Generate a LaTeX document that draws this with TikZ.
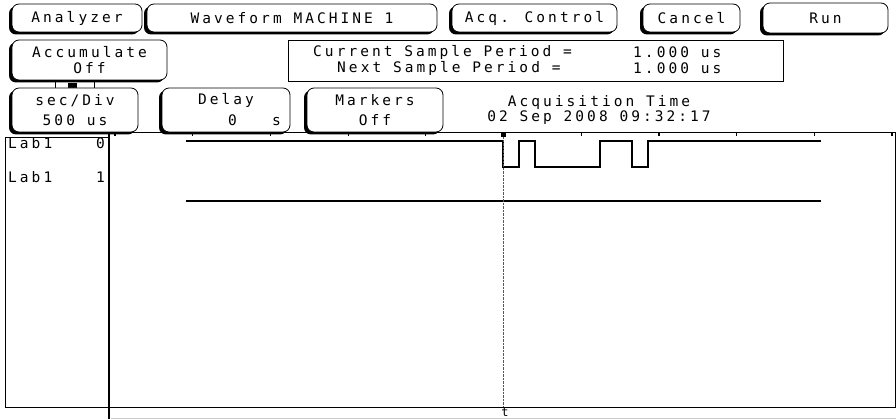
\documentclass[tikz,border=0pt]{standalone}
\usepackage{fontspec}
\usetikzlibrary{shadows}
\newfontfamily\hpfont[LetterSpace=21]{DejaVu Sans Mono}

\tikzset{
  btn/.style={draw, line width=0.8pt, rounded corners=7pt, fill=white, align=center,
    inner sep=0pt, font=\hpfont\fontsize{14.5}{16}\selectfont,
    drop shadow={shadow xshift=-3pt, shadow yshift=-2.5pt, opacity=1, fill=black}},
  tall/.style={font=\hpfont\fontsize{14.5}{20}\selectfont},
  lbl/.style={inner sep=0pt, font=\hpfont\fontsize{14.5}{16}\selectfont},
  wave/.style={line width=1.2pt},
}

\begin{document}
\begin{tikzpicture}[x=1pt,y=-1pt]
    \useasboundingbox (0,0) rectangle (896,419) ;
    %% top row of buttons
    \node[btn, minimum width=130, minimum height=28] (analyzer) at (77,18) {Analyzer} ;
    \node[btn, minimum width=290, minimum height=28] (machine) at (292,18) {Waveform MACHINE 1} ;
    \node[btn, minimum width=165, minimum height=28] (acqctrl) at (534.5,18) {Acq. Control} ;
    \node[btn, minimum width=97, minimum height=28] (cancel) at (691.5,18) {Cancel} ;
    \node[btn, minimum width=125, minimum height=30] (run) at (825.5,18) {Run} ;
    %% second row
    \node[btn, minimum width=155, minimum height=40] (accum) at (89.5,60) {Accumulate\\Off} ;
    \draw[line width=0.8pt] (288,40) rectangle (783,81) ;
    \node[lbl, anchor=west] (curlbl) at (313,52) {Current Sample Period =} ;
    \node[lbl, anchor=west] (curval) at (633,52) {1.000 us} ;
    \node[lbl, anchor=west] (nextlbl) at (337,68) {Next Sample Period =} ;
    \node[lbl, anchor=west] (nextval) at (633,68) {1.000 us} ;
    %% little link under Accumulate
    \draw (55,80) -- (55,88) ;
    \draw (94,80) -- (94,88) ;
    \fill (60,89) rectangle (90,93) ;
    \fill (68,83) rectangle (77,89) ;
    %% third row
    \node[btn, tall, minimum width=126, minimum height=44] (secdiv) at (75,110) {sec/Div\\500 us} ;
    \node[btn, minimum width=128, minimum height=44] (delay) at (226,110) {} ;
    \node[lbl] (delaytxt) at (226,100) {Delay} ;
    \node[lbl, anchor=east] (delayval) at (281,120) {0\ \ \ s} ;
    \node[btn, tall, minimum width=136, minimum height=44] (markers) at (375,110) {Markers\\Off} ;
    \node[lbl, align=center, font=\hpfont\fontsize{14.5}{15}\selectfont] (acqtime) at (599,110)
         {Acquisition Time\\02 Sep 2008 09:32:17} ;
    %% label column
    \draw[line width=0.9pt] (5,137) rectangle (108,407) ;
    \node[lbl, anchor=west] (lab0) at (8,143) {Lab1} ;
    \node[lbl, anchor=east] (bit0) at (105,143) {0} ;
    \node[lbl, anchor=west] (lab1) at (8,177) {Lab1} ;
    \node[lbl, anchor=east] (bit1) at (105,177) {1} ;
    %% waveform area
    \draw[line width=1pt] (109,133) -- (895,133) -- (895,407) ;
    \draw[line width=1pt] (5,407) -- (896,407) ;
    \draw[gray!40, line width=0.8pt] (111,418) -- (896,418) ;
    \draw[line width=2.5pt] (109,133) -- (109,419) ;
    \foreach \k in {0,...,10}
        \draw[line width=1.2pt] (115+77.7*\k,133) -- ++(0,3) ;
    \draw[wave] (186,141) -- (503,141) -- (503,167) -- (519,167) -- (519,141)
        -- (535,141) -- (535,167) -- (600,167) -- (600,141) -- (632,141)
        -- (632,167) -- (648,167) -- (648,141) -- (821,141) ;
    \draw[line width=2.6pt] (186,201) -- (821,201) ;
    %% marker
    \draw[densely dotted, gray!70!black] (503,137) -- (503,407) ;
    \fill (500.5,132) rectangle (505.5,137) ;
    \node[lbl, anchor=north, font=\hpfont\fontsize{12}{13}\selectfont] (tmark) at (505,407.5) {t} ;
\end{tikzpicture}
\end{document}
